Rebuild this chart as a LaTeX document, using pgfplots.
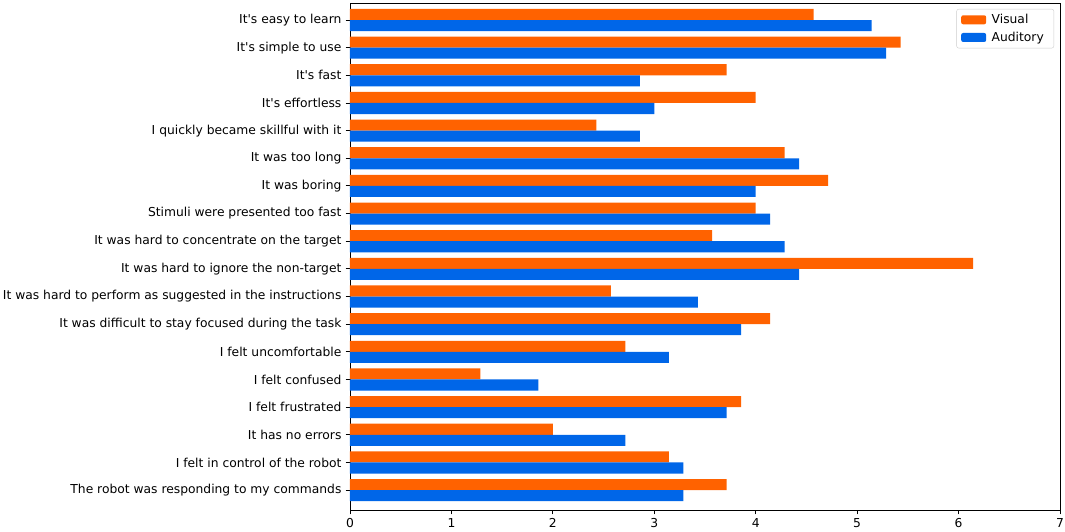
\documentclass[border=0pt]{standalone}
\usepackage{fontspec}
\setmainfont{DejaVu Sans}
\usepackage{pgfplots}
\pgfplotsset{compat=1.18}
\definecolor{vis}{RGB}{255,98,0}
\definecolor{aud}{RGB}{0,102,232}
\begin{document}
\fontsize{12.3pt}{14pt}\selectfont
\begin{tikzpicture}
\begin{axis}[name=ax, scale only axis, width=710pt, height=507pt,
 xmin=0, xmax=7, ymin=-0.72, ymax=17.615,
 xtick={0,1,2,3,4,5,6,7}, ytick={0,1,...,17},
 yticklabels={The robot was responding to my commands,
  I felt in control of the robot,
  It has no errors,
  I felt frustrated,
  I felt confused,
  I felt uncomfortable,
  It was difficult to stay focused during the task,
  It was hard to perform as suggested in the instructions,
  It was hard to ignore the non-target,
  It was hard to concentrate on the target,
  Stimuli were presented too fast,
  It was boring,
  It was too long,
  I quickly became skillful with it,
  It\textquotesingle s effortless,
  It\textquotesingle s fast,
  It\textquotesingle s simple to use,
  It\textquotesingle s easy to learn},
 tick align=outside, major tick length=4.3pt,
 tick style={black, line width=0.9pt},
 xtick pos=bottom, ytick pos=left,
 axis line style={black, line width=0.9pt},
 /pgf/number format/assume math mode=true,
 tick label style={font=\fontsize{12.3pt}{14pt}\selectfont},
 xbar, bar width=0.4, bar shift=0pt,
 legend cell align=left,
 legend image code/.code={\fill[#1] (0pt,-4.5pt) rectangle (25pt,4.5pt);},
 legend style={at={(1,1)}, anchor=north east, xshift=-6pt, yshift=-6pt,
   draw=black!20, rounded corners=2pt, inner xsep=4.5pt, inner ysep=2.5pt,
   row sep=1.5pt,
   nodes={inner xsep=5.5pt, inner ysep=2.5pt, font=\fontsize{12.3pt}{14pt}\selectfont}},
]
\addplot[fill=vis, draw=none] coordinates {
 (4.571,17.2) (5.429,16.2) (3.714,15.2) (4.0,14.2) (2.429,13.2) (4.286,12.2)
 (4.714,11.2) (4.0,10.2) (3.571,9.2) (6.143,8.2) (2.571,7.2) (4.143,6.2)
 (2.714,5.2) (1.286,4.2) (3.857,3.2) (2.0,2.2) (3.143,1.2) (3.714,0.2)};
\addlegendentry{Visual}
\addplot[fill=aud, draw=none] coordinates {
 (5.143,16.8) (5.286,15.8) (2.857,14.8) (3.0,13.8) (2.857,12.8) (4.429,11.8)
 (4.0,10.8) (4.143,9.8) (4.286,8.8) (4.429,7.8) (3.429,6.8) (3.857,5.8)
 (3.143,4.8) (1.857,3.8) (3.714,2.8) (2.714,1.8) (3.286,0.8) (3.286,-0.2)};
\addlegendentry{Auditory}
\end{axis}
\pgfresetboundingbox
\path ([shift={(-350pt,-21pt)}]ax.south west) rectangle ([shift={(5pt,3pt)}]ax.north east);
\end{tikzpicture}
\end{document}
